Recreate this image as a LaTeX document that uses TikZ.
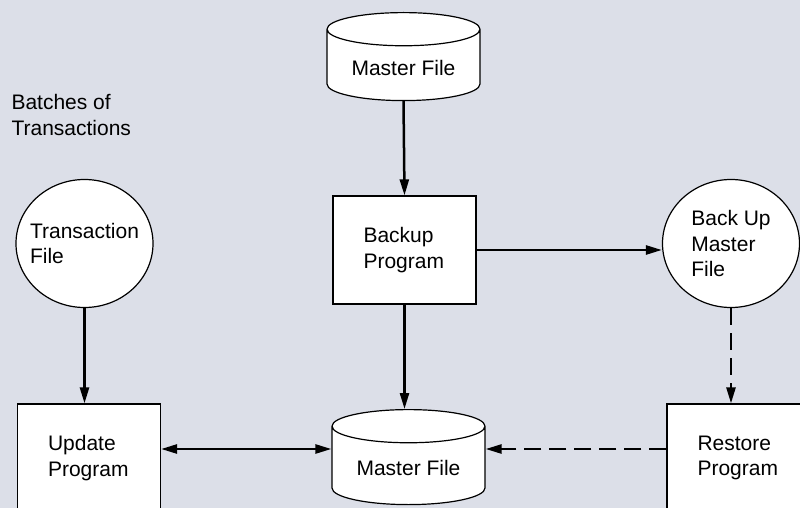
\documentclass[tikz,border=0pt]{standalone}
\usepackage{fontspec}
\setmainfont{Liberation Sans}
\usetikzlibrary{arrows.meta,shapes.geometric,positioning}
\definecolor{DFDBack}{HTML}{DCDFE8}

\begin{document}
\begin{tikzpicture}[
    x=1pt,y=-1pt,
    every node/.style={font=\fontsize{21}{25.7}\selectfont},
    program/.style={rectangle,draw=black,line width=1.2pt,fill=white,
      minimum width=143pt,minimum height=108pt,inner xsep=30.5pt,
      text width=82pt,align=left},
    datafile/.style={ellipse,draw=black,line width=1.2pt,fill=white,
      minimum width=137pt,minimum height=128pt,inner xsep=-8pt,
      inner ysep=0pt,align=left},
    store/.style={cylinder,shape border rotate=90,aspect=0.3,
      draw=black,line width=1.2pt,fill=white,
      minimum width=153pt,minimum height=88pt},
    flow/.style={-{Triangle[length=16pt,width=9pt]},line width=2.5pt},
    backflow/.style={flow,dash pattern=on 17pt off 8pt}
  ]
  \useasboundingbox[fill=DFDBack] (0,0) rectangle (800,508);

  % files and programs
  \node[store,anchor=north] (mtop) at (403.5,12) {Master File};
  \node[program] (backup) at (404.5,250) {Backup\\Program};
  \node[datafile] (bkfile) at (731,243.5) {Back Up\\Master\\File};
  \node[datafile] (tfile) at (84.5,243.5) {Transaction\\File};
  \node[program] (update) at (89,458) {Update\\Program};
  \node[store,anchor=north,minimum height=95pt] (mbot) at (408.5,409) {Master File};
  \node[program] (restore) at (738.5,458) {Restore\\Program};

  \node[anchor=north west,align=left] (batch) at (8,91)
    {Batches of\\Transactions};

  % flows
  \draw[flow] (mtop.south) -- (backup.north);
  \draw[flow] (backup.east) -- (backup.east -| bkfile.west);
  \draw[flow] (backup.south) -- (backup.south |- mbot.north);
  \draw[flow] (tfile.south) -- (tfile.south |- update.north);
  \draw[flow,{Triangle[length=16pt,width=9pt]}-{Triangle[length=16pt,width=9pt]}]
    (update.east |- 0,449) -- (mbot.west |- 0,449);
  \draw[backflow] (restore.west |- 0,449) -- (mbot.east |- 0,449);
  \draw[backflow] (bkfile.south) -- (bkfile.south |- restore.north);
\end{tikzpicture}
\end{document}
